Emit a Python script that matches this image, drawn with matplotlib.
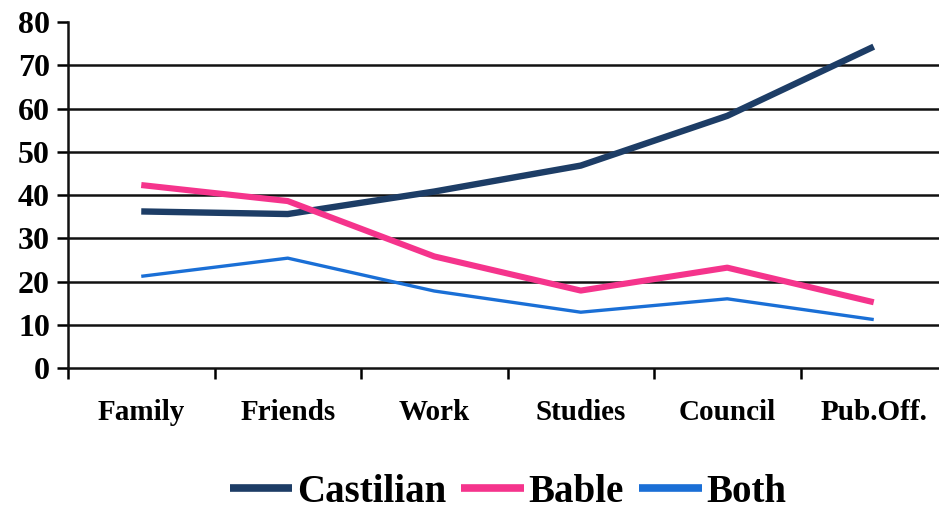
import matplotlib
matplotlib.use("Agg")
import matplotlib.pyplot as plt
import numpy as np

categories = ["Family", "Friends", "Work", "Studies", "Council", "Pub.Off."]
castilian = [36.2, 35.6, 40.8, 46.8, 58.3, 74.3]
bable = [42.3, 38.6, 25.8, 17.9, 23.2, 15.2]
both = [21.2, 25.4, 17.8, 12.9, 16.0, 11.2]
y_ticks = [0, 10, 20, 30, 40, 50, 60, 70, 80]

plt.rcParams['font.family'] = ['Liberation Serif', 'DejaVu Serif']
plt.rcParams['font.weight'] = 'bold'

fig = plt.figure(figsize=(9.39, 5.11), dpi=100)
ax = fig.add_axes([68/939, 143/511, 879/939, 346/511])

x = np.arange(len(categories)) + 0.5

for t in y_ticks[1:-1]:
    ax.axhline(t, color='#111111', lw=1.8, zorder=1)

ax.plot(x, castilian, color='#1d3d66', lw=4.6, label='Castilian', zorder=3, solid_capstyle='butt')
ax.plot(x, bable, color='#f5348c', lw=4.4, label='Bable', zorder=3, solid_capstyle='butt')
ax.plot(x, both, color='#1a6fd6', lw=2.4, label='Both', zorder=3, solid_capstyle='butt')

ax.set_xlim(0, len(categories))
ax.set_ylim(0, 80)
ax.set_yticks(y_ticks)
ax.set_yticklabels([str(t) for t in y_ticks], fontsize=23, fontweight='bold')
ax.set_xticks(np.arange(len(categories) + 1))
ax.set_xticklabels([])
ax.set_xticks(x, minor=True)
ax.set_xticklabels(categories, minor=True, fontsize=21, fontweight='bold')
ax.tick_params(axis='x', which='minor', length=0, pad=22)
ax.tick_params(axis='x', which='major', length=8, width=1.8, direction='out')
ax.tick_params(axis='y', which='major', length=8, width=1.8, direction='out', pad=5)

for s in ['top', 'right']:
    ax.spines[s].set_visible(False)
for s in ['left', 'bottom']:
    ax.spines[s].set_linewidth(1.8)
    ax.spines[s].set_color('#111111')

leg = fig.legend(loc='center', bbox_to_anchor=(508/939, 1 - 492/511), ncol=3,
                 frameon=False, handlelength=1.6, handletextpad=0.12,
                 columnspacing=0.4, prop={'weight': 'bold', 'size': 28})
for lh in leg.get_lines():
    lh.set_linewidth(5.5)

fig.savefig("out.png", dpi=100)
